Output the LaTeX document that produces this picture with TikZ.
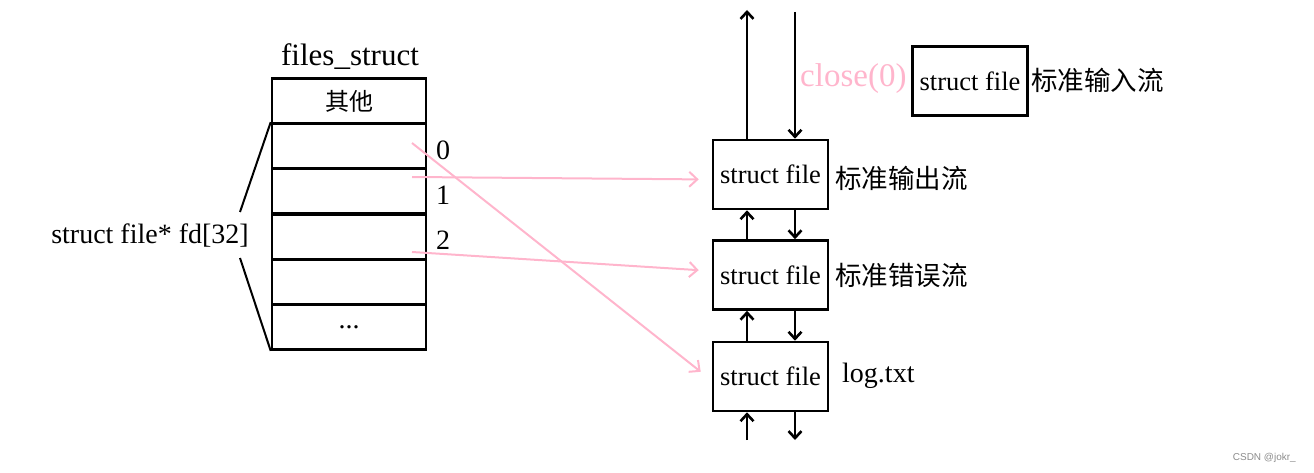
\documentclass[tikz,border=0pt]{standalone}
\usepackage{fontspec}
\setmainfont{Liberation Serif}
\newfontfamily\cjk{Noto Sans CJK SC}
\newfontfamily\syfont{Liberation Sans}
\usetikzlibrary{arrows.meta}
\definecolor{fenhong}{rgb}{1,0.71,0.80}
\definecolor{shuiyin}{rgb}{0.55,0.55,0.55}

\begin{document}
\begin{tikzpicture}[x=1pt,y=-1pt,
        cell/.style={draw, line width=2.6pt, minimum width=154pt, minimum height=45pt, inner sep=0pt},
        filebox/.style={draw, line width=2.6pt, minimum width=115pt, minimum height=69pt, inner sep=0pt, font=\fontsize{26.5}{30}\selectfont},
        zh/.style={anchor=west, inner sep=0pt, font=\cjk\fontsize{26.5}{30}\selectfont},
        en/.style={inner sep=0pt, font=\fontsize{28}{32}\selectfont},
        liu/.style={line width=2.6pt, -{Straight Barb[length=7pt,width=13pt]}},
        zhi/.style={fenhong, line width=2pt, -{Straight Barb[length=8pt,width=15pt]}}]
        \useasboundingbox (0,0) rectangle (1314,473);

        % files_struct
        \node[en, font=\fontsize{31}{34}\selectfont] (title) at (350,57) {files\_struct};
        \node[cell, font=\cjk\fontsize{24}{28}\selectfont] (other) at (349,101) {其他};
        \node[cell] (r0) at (349,146) {};
        \node[cell] (r1) at (349,191) {};
        \node[cell] (r2) at (349,237) {};
        \node[cell] (r3) at (349,282) {};
        \node[cell, en] (r4) at (349,327) {...};

        \node[en, anchor=west] (n0) at (436,150) {0};
        \node[en, anchor=west] (n1) at (436,195) {1};
        \node[en, anchor=west] (n2) at (436,240) {2};

        \node[en] (fd) at (150,236) {struct file* fd[32]};
        \coordinate (kt) at (240,212);
        \coordinate (kb) at (240,258);
        \draw[line width=2pt] (r0.north west) -- (kt);
        \draw[line width=2pt] (kb) -- (r4.south west);

        % struct file
        \node[filebox] (stdin) at (970,81) {struct file};
        \node[filebox] (stdout) at (770.5,174.5) {struct file};
        \node[filebox] (stderr) at (770.5,275) {struct file};
        \node[filebox] (logf) at (770.5,376.5) {struct file};

        \node[zh] (lin) at (1031,80) {标准输入流};
        \node[zh] (lout) at (835,178) {标准输出流};
        \node[zh] (lerr) at (835,275) {标准错误流};
        \node[en, anchor=west] (llog) at (842,376) {log.txt};
        \node[inner sep=0pt, anchor=west, text=fenhong, font=\fontsize{33}{36}\selectfont] (close) at (800,79) {close(0)};

        % linked list
        \coordinate (upT) at (747,10);
        \coordinate (dnT) at (795,12);
        \coordinate (upB) at (747,440);
        \coordinate (dnB) at (795,440);
        \draw[liu] ([xshift=-23.5pt]stdout.north) -- (upT);
        \draw[liu] (dnT) -- ([xshift=24.5pt]stdout.north);
        \draw[liu] ([xshift=-23.5pt]stderr.north) -- ([xshift=-23.5pt]stdout.south);
        \draw[liu] ([xshift=24.5pt]stdout.south) -- ([xshift=24.5pt]stderr.north);
        \draw[liu] ([xshift=-23.5pt]logf.north) -- ([xshift=-23.5pt]stderr.south);
        \draw[liu] ([xshift=24.5pt]stderr.south) -- ([xshift=24.5pt]logf.north);
        \draw[liu] (upB) -- ([xshift=-23.5pt]logf.south);
        \draw[liu] ([xshift=24.5pt]logf.south) -- (dnB);

        % fd pointers
        \draw[zhi, shorten >=14pt] ([xshift=63pt,yshift=3pt]r0.center) -- ([yshift=-4pt]logf.west);
        \draw[zhi, shorten >=13pt] ([xshift=63pt,yshift=14pt]r1.center) -- ([yshift=-5pt]stdout.west);
        \draw[zhi, shorten >=13pt] ([xshift=63pt,yshift=-15pt]r2.center) -- ([yshift=4pt]stderr.west);

        \node[inner sep=0pt, anchor=east, text=shuiyin, font=\syfont\fontsize{10}{12}\selectfont] (csdn) at (1296,458) {CSDN @jokr\_};
\end{tikzpicture}
\end{document}
